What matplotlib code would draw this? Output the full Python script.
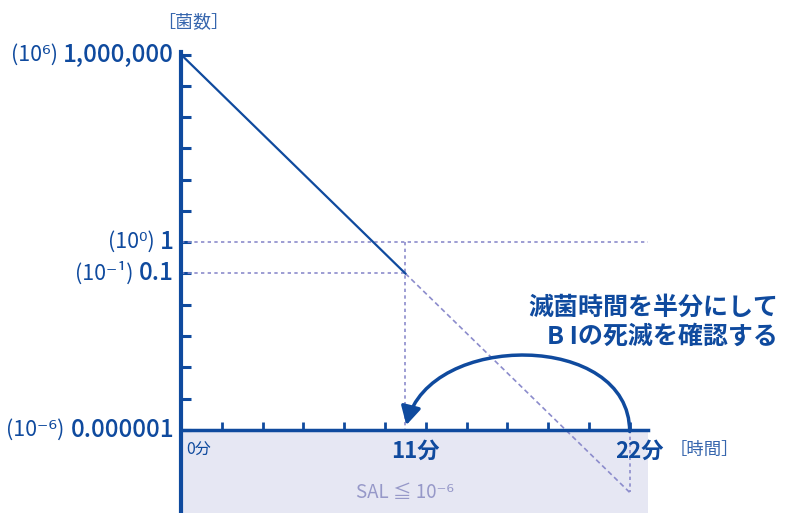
import matplotlib.pyplot as plt
from matplotlib.patches import FancyArrowPatch
from matplotlib.path import Path

plt.rcParams['font.family'] = ['Noto Sans CJK JP', 'DejaVu Sans']

# data
t_solid = [0, 11]
n_solid = [1e6, 1e-1]
t_dash = [11, 22]
n_dash = [1e-1, 1e-8]
y_ticks = [1e6, 1e5, 1e4, 1e3, 1e2, 1e1, 1e0, 1e-1, 1e-2, 1e-3, 1e-4, 1e-5, 1e-6]
y_label_vals = [1e6, 1e0, 1e-1, 1e-6]
y_label_text = ['1,000,000', '1', '0.1', '0.000001']
y_label_pref = ['(10⁶)', '(10⁰)', '(10⁻¹)', '(10⁻⁶)']
x_ticks = [0, 2, 4, 6, 8, 10, 12, 14, 16, 18, 20, 22]
x_label_vals = [0, 11, 22]
x_label_text = ['0分', '11分', '22分']

BLUE = '#0f4a9e'
DOT = '#8c8ccc'
SHADE = '#e6e7f3'

fig = plt.figure(figsize=(7.85, 5.13), dpi=100)
ax = fig.add_axes([181 / 785, 0, (648 - 181) / 785, (513 - 52) / 513])
ax.set_yscale('log')
ax.set_xlim(0, 22.9)
ax.set_ylim(10 ** -8.66, 10 ** 6.08)

# shaded region below the time axis
ax.axhspan(10 ** -8.66, 1e-6, color=SHADE, zorder=0, lw=0)

# guide lines
ax.plot([0, 22.9], [1, 1], ls=(0, (2, 2)), color=DOT, lw=1.2)
ax.plot([0, 11], [0.1, 0.1], ls=(0, (2, 2)), color=DOT, lw=1.2)
ax.plot([11, 11], [1, 1e-6], ls=(0, (2, 2)), color=DOT, lw=1.2)
ax.plot([22, 22], [1e-6, 1e-8], ls=(0, (2, 2)), color=DOT, lw=1.2)
ax.plot(t_dash, n_dash, ls=(0, (3, 2)), color=DOT, lw=1.2)
ax.plot(t_solid, n_solid, color=BLUE, lw=1.6, zorder=4)

# spines / ticks
for s in ['top', 'right']:
    ax.spines[s].set_visible(False)
ax.spines['left'].set_color(BLUE)
ax.spines['left'].set_linewidth(3)
ax.spines['bottom'].set_color(BLUE)
ax.spines['bottom'].set_linewidth(2.5)
ax.spines['bottom'].set_position(('data', 1e-6))
ax.set_yticks(y_ticks)
ax.set_yticklabels([])
ax.minorticks_off()
ax.set_xticks(x_ticks)
ax.set_xticklabels([])
ax.tick_params(axis='y', direction='in', length=7, width=2.2, color=BLUE)
ax.tick_params(axis='x', direction='in', length=6, width=2, color=BLUE)
ax.set_facecolor('none')

# y labels
for v, txt, pre in zip(y_label_vals, y_label_text, y_label_pref):
    t = ax.annotate(txt, xy=(0, v), xytext=(-5, 0), textcoords='offset points',
                    ha='right', va='center', fontsize=17.5, color=BLUE,
                    fontweight='medium', annotation_clip=False)
    ax.annotate(pre, xy=(0, 0.5), xycoords=t, xytext=(-4, 0),
                textcoords='offset points', ha='right', va='center',
                fontsize=15.5, color=BLUE)

# x labels
for v, txt in zip(x_label_vals, x_label_text):
    if v == 0:
        ax.annotate(txt, xy=(v, 1e-6), xytext=(4, -9), textcoords='offset points',
                    ha='left', va='top', fontsize=11.5, color=BLUE)
    else:
        ax.annotate(txt, xy=(v, 1e-6), xytext=(7, -7), textcoords='offset points',
                    ha='center', va='top', fontsize=16, color=BLUE, fontweight='bold')

ax.annotate('［時間］', xy=(22, 1e-6), xytext=(29, -8), textcoords='offset points',
            ha='left', va='top', fontsize=12.5, color='#3565ad', annotation_clip=False)
fig.text(193 / 785, 1 - 22 / 513, '［菌数］', ha='center', va='center',
         fontsize=13, color='#3565ad')

ax.text(11, 10 ** -8.0, 'SAL ≦ 10⁻⁶', ha='center', va='center',
        fontsize=13.5, color='#9698c8')

fig.text(778 / 785, 1 - 322 / 513, '滅菌時間を半分にして\nB Iの死滅を確認する',
         ha='right', va='center', fontsize=18, color=BLUE, fontweight='bold',
         linespacing=1.25)

# curved arrow from 22 to 11
verts = [(22, 10 ** -6.05), (22, 10 ** -2.85), (12.2, 10 ** -2.85), (11.05, 10 ** -5.85)]
arc = FancyArrowPatch(path=Path(verts, [Path.MOVETO, Path.CURVE4, Path.CURVE4, Path.CURVE4]),
                      arrowstyle='-|>,head_length=11,head_width=6',
                      color=BLUE, lw=2.5, zorder=6)
ax.add_patch(arc)

fig.savefig('out.png', dpi=100)
